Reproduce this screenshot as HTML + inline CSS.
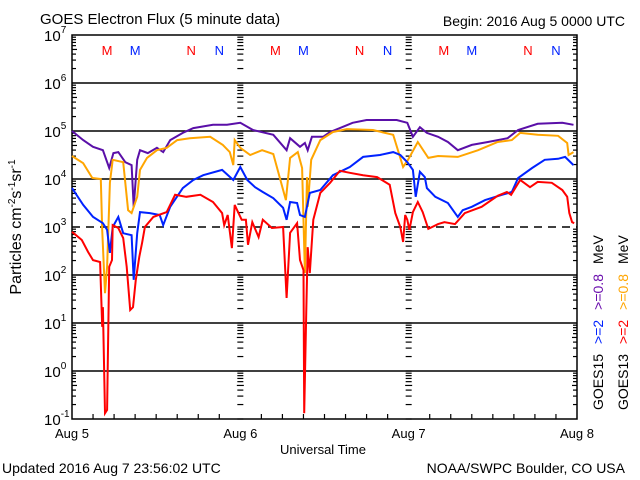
<!DOCTYPE html>
<html><head><meta charset="utf-8"><style>
body{margin:0;background:#fff}
svg{display:block;font-family:"Liberation Sans",sans-serif}
</style></head><body>
<svg id="chart" width="640" height="480" viewBox="0 0 640 480" xmlns="http://www.w3.org/2000/svg">
<rect width="640" height="480" fill="#fff"/>
<text x="40" y="24" font-size="15">GOES Electron Flux (5 minute data)</text>
<text x="625" y="26" font-size="14" text-anchor="end">Begin: 2016 Aug 5 0000 UTC</text>
<text x="323" y="454" font-size="13" text-anchor="middle">Universal Time</text>
<text x="2" y="473" font-size="14">Updated 2016 Aug  7 23:56:02 UTC</text>
<text x="625" y="473" font-size="14" text-anchor="end">NOAA/SWPC Boulder, CO USA</text>
<text transform="translate(21,227) rotate(-90)" font-size="16" text-anchor="middle">Particles cm<tspan font-size="10" dy="-6">-2</tspan><tspan dy="6">s</tspan><tspan font-size="10" dy="-6">-1</tspan><tspan dy="6">sr</tspan><tspan font-size="10" dy="-6">-1</tspan></text>
<text transform="translate(603,410) rotate(-90)" font-size="14"><tspan fill="#000">GOES15</tspan><tspan fill="#0022ff" dx="10">&gt;=2</tspan><tspan fill="#6a0dad" dx="10">&gt;=0.8</tspan><tspan fill="#000" dx="10">MeV</tspan></text>
<text transform="translate(628,410) rotate(-90)" font-size="14"><tspan fill="#000">GOES13</tspan><tspan fill="#ff0000" dx="10">&gt;=2</tspan><tspan fill="#ffa500" dx="10">&gt;=0.8</tspan><tspan fill="#000" dx="10">MeV</tspan></text>
<g id="axes"></g>
<g id="series"></g>
</svg>
<script>
const dayLabels=["Aug 5","Aug 6","Aug 7","Aug 8"];
const decadeExps=[7,6,5,4,3,2,1,0,-1];
const markerLabels=["M","M","N","N"];
const markerHours=[5,9,17,21];
// [hour, log10 flux]
const hoursPurple=[0,1.6,3,4.4,5.3,5.9,6.6,7.6,8.5,8.8,9.3,9.7,10.8,12.1,13,14,15.8,17.3,20.1,22.1,24,25.8,28.7,30.6,31.1,32.5,33.2,33.6,34.2,35.8,36.8,38.2,40,42,46.3,47.8,48.6,49.6,50.6,52.2,53.6,55,57,59.3,62.1,63.6,66.4,69.9,71.5];
const valsPurple=[5.0,4.81,4.67,4.6,4.23,4.54,4.56,4.35,4.29,3.42,4.4,4.6,4.54,4.65,4.56,4.81,4.96,5.06,5.13,5.13,5.17,5.02,4.92,4.6,4.85,4.67,4.75,4.6,4.88,4.88,4.98,5.06,5.17,5.23,5.23,5.17,4.88,5.08,4.96,4.88,4.77,4.6,4.71,4.77,4.85,5.02,5.15,5.17,5.13];
const hoursOrange=[0,1.6,2.9,4.1,4.3,4.7,5,5.4,5.8,7.3,8,8.5,9.3,9.7,10.7,12.1,13.5,15,16.8,19.7,21.5,22.5,23,23.2,24,25.4,27.1,28.7,30.5,31.1,32.2,32.8,33.2,33.5,33.6,34.1,35.4,37.2,39.2,42.9,45.8,47.2,47.9,49.3,50.8,52.2,55,57.9,60.7,62.7,63.9,66.4,69.3,70.6,70.8,71.5];
const valsOrange=[4.48,4.33,4.02,4.0,2.94,1.62,2.17,3.92,4.4,4.35,3.35,3.29,3.63,4.19,4.44,4.6,4.65,4.81,4.85,4.88,4.71,4.56,4.29,4.81,4.65,4.5,4.6,4.52,3.56,4.44,4.56,4.23,2.04,4.04,3.42,4.4,4.81,4.98,5.04,5.02,4.92,4.25,4.4,4.77,4.44,4.48,4.46,4.6,4.77,4.81,4.96,4.92,4.9,4.75,4.5,4.56];
const hoursBlue=[0,1.6,3,4.4,5,5.4,5.8,6.6,7.3,8.5,8.8,9.3,9.7,11.1,12.5,13,14,15.8,17.3,18.7,21.4,23,24,25,26.1,27.2,28.7,30.1,30.6,31.1,32.1,32.5,33.2,33.9,35.4,37.2,39.6,41.5,43.9,45.8,46.8,47.8,48.6,49,49.6,50.3,50.6,51.8,53.6,55,55.7,57,58.9,61.3,62.7,63.6,65.6,67.4,69.3,70.3,71.5];
const valsBlue=[3.81,3.46,3.21,3.08,2.94,2.46,3.0,3.21,2.87,2.83,1.9,2.87,3.31,3.29,3.25,3.04,3.42,3.81,3.98,4.08,4.19,3.98,4.25,3.98,3.83,3.73,3.6,3.4,3.15,3.52,3.5,3.25,3.21,3.71,3.77,4.08,4.25,4.46,4.5,4.56,4.5,4.35,4.19,3.63,4.15,4.04,3.81,3.63,3.5,3.21,3.35,3.42,3.56,3.67,3.73,4.02,4.23,4.4,4.42,4.46,4.29];
const hoursRed=[0,1.4,2.3,3,4,4.3,4.4,4.7,5,5.3,5.7,5.8,6.6,7.3,7.8,8.3,8.7,9.1,9.6,10,10.4,11.6,13.5,14.7,16.3,18.3,20.1,21.4,21.7,22.2,22.8,23.2,24.2,24.8,25.1,25.7,26.6,27.2,28.5,30.1,30.6,31.1,32.1,32.5,33,33.1,33.4,33.6,33.9,34.4,35.4,36.8,38.2,39.6,41.5,43.5,45.3,46.1,46.8,47.2,47.5,47.8,48.1,48.6,49.3,50,50.8,52.2,53.1,54.6,56,58.4,60.7,62,62.6,63.9,65.3,66.4,68.4,69.9,70.6,70.9,71.3,71.6];
const valsRed=[2.9,2.73,2.48,2.31,2.27,0.92,1.33,-0.88,-0.81,2.17,2.31,3.04,2.98,2.77,2.17,1.27,1.33,1.9,2.38,2.67,3.0,3.21,3.31,3.67,3.63,3.67,3.52,3.29,3.04,3.25,2.56,3.46,3.15,3.15,2.63,3.1,2.79,3.15,2.98,3.0,1.52,2.88,3.08,2.31,2.1,-0.88,1.27,2.58,2.04,3.15,3.71,3.92,4.17,4.13,4.08,4.04,3.88,3.29,3.0,2.69,3.25,3.15,2.94,3.31,3.52,3.31,2.96,3.06,3.1,3.06,3.29,3.42,3.65,3.73,3.67,3.98,3.83,3.94,3.92,3.77,3.63,3.29,3.1,3.08];

const L=72,R=577,T=35,B=419;
const xS=h=>L+(R-L)*h/72;
const yS=v=>T+(7-v)*(B-T)/8;
const NS="http://www.w3.org/2000/svg";
const axes=document.getElementById('axes'),series=document.getElementById('series');
function mk(tag,attrs,parent){const e=document.createElementNS(NS,tag);for(const k in attrs)e.setAttribute(k,attrs[k]);parent.appendChild(e);return e;}

// gridlines
decadeExps.forEach(p=>{
  if(p===7||p===-1)return;
  const y=yS(p);
  const g=mk('line',{x1:L,x2:R,y1:y,y2:y,stroke:'#000','stroke-width':1.5},axes);
  if(p===3)g.setAttribute('stroke-dasharray','8,6');
  
  
});
// minor y ticks on left, day lines, right
[L,xS(24),xS(48),R].forEach((x,i)=>{
  for(let p=-1;p<7;p++){
    for(let m=2;m<=9;m++){
      const y=yS(p+Math.log10(m));
      const len=m===5?5:4;
      let x1,x2;
      if(i===0){x1=L;x2=L+len;}else if(i===3){x1=R-len;x2=R;}else{x1=x-len/2-1;x2=x+len/2+1;}
      const t=mk('line',{x1:x1,x2:x2,y1:y,y2:y,stroke:'#000','stroke-width':1.2},axes);
      
      
    }
    if(i===1||i===2){
      const t=mk('line',{x1:x-3,x2:x+3,y1:yS(p),y2:yS(p),stroke:'#000','stroke-width':1.2},axes);
      
      
    }
  }
});
// x ticks every 3 hours
for(let h=3;h<72;h+=3){
  const t=mk('line',{x1:xS(h),x2:xS(h),y1:B,y2:B-(h%24===0?0:5),stroke:'#000','stroke-width':1.2},axes);
  
  
}
// frame
const fr=mk('rect',{x:L,y:T,width:R-L,height:B-T,fill:'none',stroke:'#000','stroke-width':1.5},axes);


// y labels
decadeExps.forEach(p=>{
  const t=mk('text',{x:44,y:yS(p)+6,'font-size':15},axes);
  
  
  t.textContent='10';
  const s=mk('tspan',{'font-size':10,dy:-8},t);s.textContent=String(p);
});
// x labels
dayLabels.forEach((d,i)=>{
  const t=mk('text',{x:xS(i*24),y:438,'font-size':13,'text-anchor':'middle'},axes);
  
  
  t.textContent=d;
});
// M/N markers
for(let d=0;d<3;d++){
  markerHours.forEach((h,i)=>{
    const t=mk('text',{x:xS(d*24+h),y:55,'font-size':13,'text-anchor':'middle',fill:i%2===0?'#ff0000':'#0022ff'},axes);
    
    
    t.textContent=markerLabels[i];
  });
}
// series
function draw(hs,vs,color,name){
  const pts=hs.map((h,i)=>xS(h).toFixed(1)+','+yS(vs[i]).toFixed(1)).join(' ');
  const p=mk('polyline',{points:pts,fill:'none',stroke:color,'stroke-width':2,'stroke-linejoin':'miter'},series);
  
  
}
draw(hoursPurple,valsPurple,'#5a0fa8','goes15-ge0.8mev-line');
draw(hoursOrange,valsOrange,'#ffa500','goes13-ge0.8mev-line');
draw(hoursBlue,valsBlue,'#0022ff','goes15-ge2mev-line');
draw(hoursRed,valsRed,'#ff0000','goes13-ge2mev-line');
</script>
</body></html>
